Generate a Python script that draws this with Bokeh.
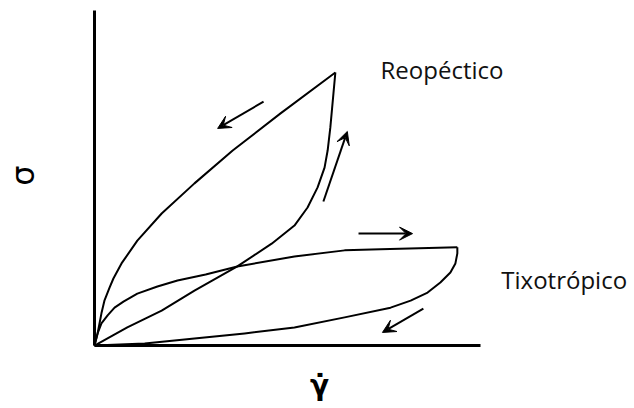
from bokeh.plotting import figure
from bokeh.models import Range1d, FixedTicker, Label, Arrow, VeeHead
from bokeh.embed import file_html
from bokeh.resources import INLINE

# Reopéctico loop: ascending (lower branch) and returning (upper branch)
reo_up_x = [0.0, 0.85, 1.74, 2.59, 3.70, 4.59, 5.18, 5.52, 5.78, 5.96, 6.04, 6.11, 6.19, 6.24]
reo_up_y = [0.0, 0.54, 1.04, 1.64, 2.36, 3.04, 3.58, 4.12, 4.72, 5.31, 5.82, 6.51, 7.52, 8.15]
reo_down_x = [6.24, 4.82, 3.58, 2.59, 1.74, 1.11, 0.70, 0.49, 0.39, 0.26, 0.18, 0.08, 0.0]
reo_down_y = [8.15, 6.93, 5.82, 4.84, 3.94, 3.13, 2.45, 2.00, 1.73, 1.35, 0.96, 0.36, 0.0]

# Tixotrópico loop: ascending (upper branch) and returning (lower branch)
tix_up_x = [0.0, 0.08, 0.18, 0.34, 0.52, 0.75, 1.11, 1.63, 2.15, 2.88, 3.70, 5.18, 6.48, 7.41, 9.40]
tix_up_y = [0.0, 0.36, 0.66, 0.90, 1.13, 1.31, 1.55, 1.76, 1.94, 2.12, 2.36, 2.66, 2.84, 2.87, 2.93]
tix_down_x = [9.40, 9.40, 9.35, 9.22, 8.96, 8.63, 8.19, 7.67, 6.48, 5.18, 3.89, 2.59, 1.30, 0.0]
tix_down_y = [2.93, 2.75, 2.45, 2.18, 1.88, 1.58, 1.34, 1.13, 0.84, 0.54, 0.36, 0.21, 0.06, 0.0]

# Direction arrows (start -> end)
arrow_x0 = [4.38, 5.93, 6.84, 8.52]
arrow_y0 = [7.28, 4.30, 3.34, 1.10]
arrow_x1 = [3.19, 6.55, 8.24, 7.46]
arrow_y1 = [6.48, 6.39, 3.34, 0.39]

labels = ["Reopéctico", "Tixotrópico"]
label_x = [7.41, 10.54]
label_y = [8.24, 1.97]

y_label = "σ"
x_label = "γ̇"

p = figure(width=630, height=404,
           x_range=Range1d(-2.435, 13.886), y_range=Range1d(-1.761, 10.299),
           output_backend="svg", toolbar_location=None, min_border=0)
p.grid.visible = False
p.outline_line_color = None
p.background_fill_color = "white"
p.border_fill_color = "white"
for ax in (p.xaxis, p.yaxis):
    ax.ticker = FixedTicker(ticks=[])
    ax.minor_tick_line_color = None
    ax.major_tick_line_color = None
    ax.major_label_text_font_size = "0px"
    ax.axis_line_width = 3
    ax.axis_line_color = "black"
    ax.fixed_location = 0
    ax.bounds = (0, 10)

for xs, ys in ((reo_up_x, reo_up_y), (reo_down_x, reo_down_y),
               (tix_up_x, tix_up_y), (tix_down_x, tix_down_y)):
    p.line(xs, ys, line_width=2, line_color="black", line_join="round")

for x0, y0, x1, y1 in zip(arrow_x0, arrow_y0, arrow_x1, arrow_y1):
    p.add_layout(Arrow(end=VeeHead(size=13, line_color="black", fill_color="black", line_width=1),
                       x_start=x0, y_start=y0, x_end=x1, y_end=y1,
                       line_width=2, line_color="black"))

for t, x, y in zip(labels, label_x, label_y):
    p.add_layout(Label(x=x, y=y, text=t, text_font="Open Sans", text_font_size="24px",
                       text_color="#111111", text_align="left", text_baseline="alphabetic"))

p.add_layout(Label(x=-1.84, y=5.07, text=y_label, text_font="DejaVu Sans", text_font_size="32px",
                   angle=1.5708, text_align="center", text_baseline="middle", text_color="black"))
p.add_layout(Label(x=5.83, y=-1.70, text=x_label, text_font="DejaVu Sans", text_font_size="28px",
                   text_font_style="bold", text_align="center", text_baseline="bottom", text_color="black"))

open("out.html", "w").write(file_html(p, INLINE))
